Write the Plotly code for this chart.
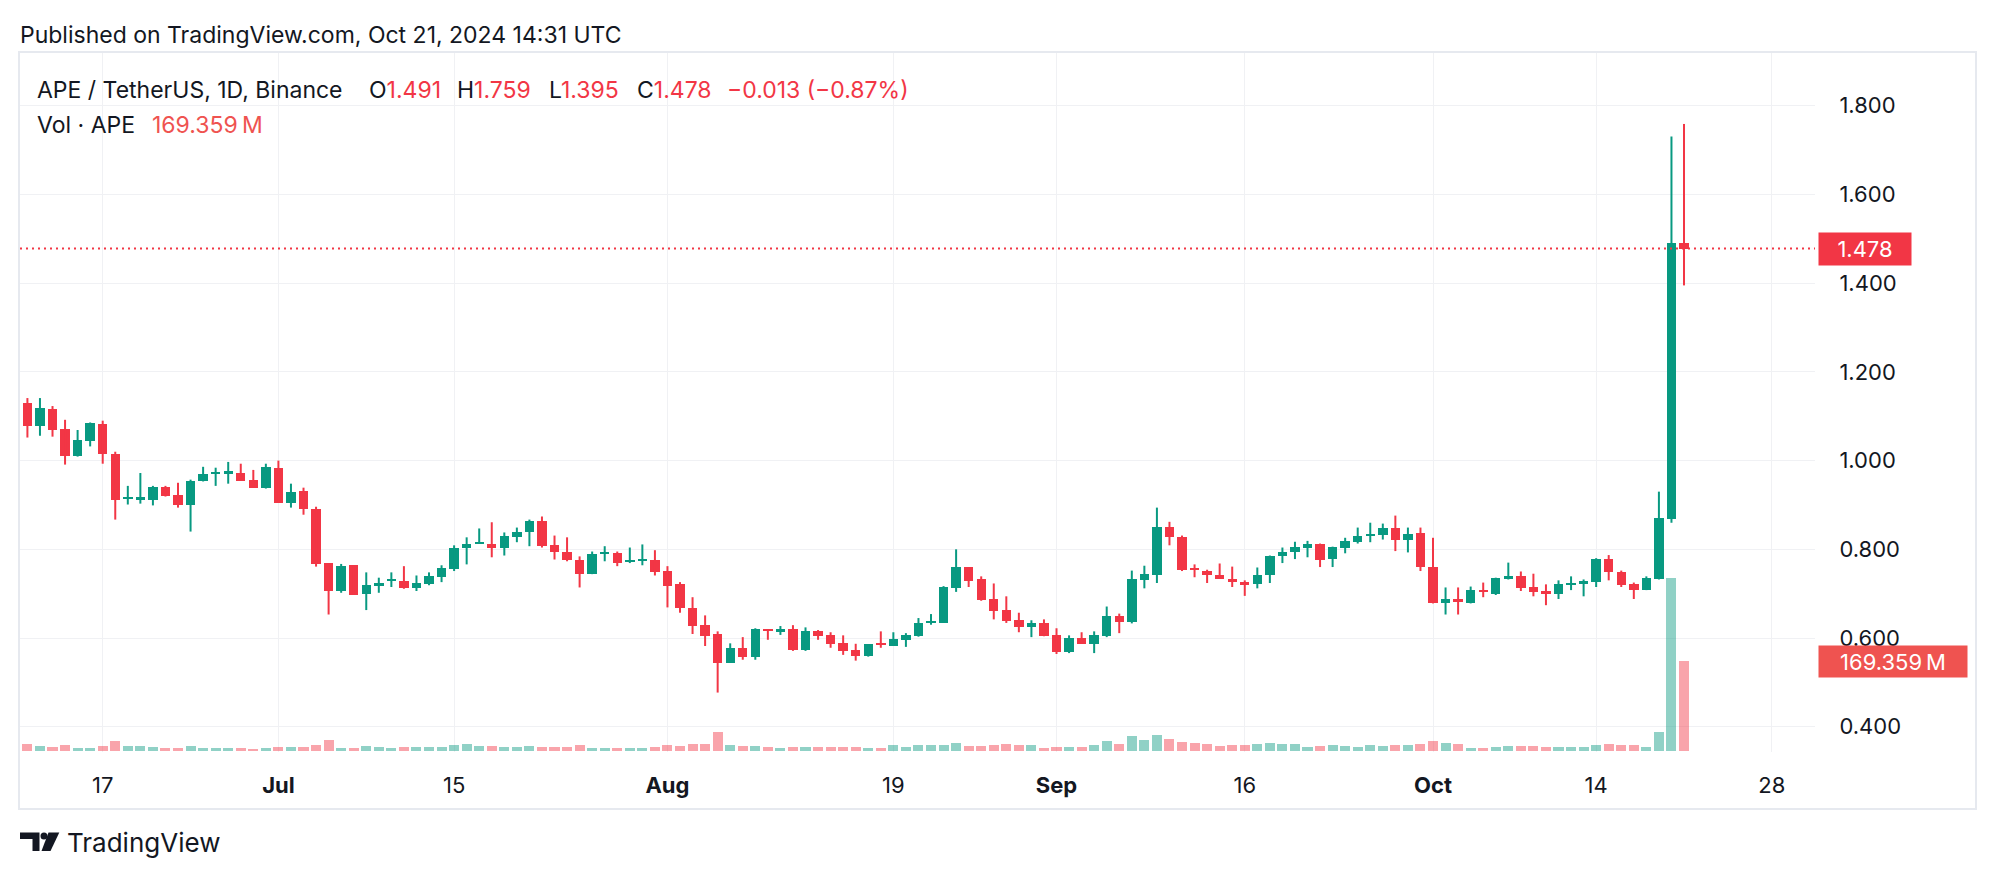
import plotly.graph_objects as go
import pandas as pd

# ---------------- data ----------------
dates = pd.date_range("2024-06-11", "2024-10-21", freq="D")

opens = [1.131, 1.079, 1.117, 1.071, 1.011, 1.045, 1.083, 1.015, 0.914, 0.913,
         0.912, 0.941, 0.923, 0.901, 0.953, 0.971, 0.972, 0.972, 0.956, 0.939,
         0.984, 0.905, 0.932, 0.891, 0.769, 0.705, 0.764, 0.699, 0.717, 0.729,
         0.728, 0.713, 0.721, 0.737, 0.755, 0.802, 0.812, 0.813, 0.804, 0.827,
         0.838, 0.863, 0.809, 0.795, 0.777, 0.744, 0.789, 0.791, 0.771, 0.774,
         0.775, 0.750, 0.721, 0.667, 0.629, 0.609, 0.544, 0.577, 0.558, 0.620,
         0.614, 0.620, 0.573, 0.615, 0.606, 0.588, 0.573, 0.560, 0.588, 0.582,
         0.596, 0.605, 0.634, 0.634, 0.713, 0.759, 0.732, 0.687, 0.663, 0.640,
         0.625, 0.633, 0.606, 0.569, 0.601, 0.587, 0.604, 0.649, 0.635, 0.730,
         0.742, 0.851, 0.828, 0.757, 0.751, 0.743, 0.733, 0.727, 0.722, 0.742,
         0.784, 0.793, 0.804, 0.813, 0.778, 0.804, 0.817, 0.829, 0.833, 0.849,
         0.822, 0.837, 0.761, 0.678, 0.689, 0.680, 0.709, 0.700, 0.734, 0.739,
         0.714, 0.705, 0.699, 0.721, 0.724, 0.726, 0.778, 0.748, 0.721, 0.708,
         0.734, 0.869, 1.491]
highs = [1.141, 1.141, 1.123, 1.092, 1.069, 1.086, 1.090, 1.020, 0.943, 0.972,
         0.943, 0.943, 0.950, 0.957, 0.986, 0.984, 0.997, 0.993, 0.979, 0.993,
         1.000, 0.948, 0.939, 0.896, 0.769, 0.767, 0.764, 0.748, 0.736, 0.748,
         0.762, 0.741, 0.748, 0.764, 0.809, 0.827, 0.847, 0.861, 0.838, 0.849,
         0.867, 0.874, 0.831, 0.827, 0.784, 0.795, 0.807, 0.795, 0.804, 0.811,
         0.798, 0.762, 0.726, 0.692, 0.651, 0.615, 0.588, 0.602, 0.622, 0.620,
         0.627, 0.629, 0.624, 0.618, 0.613, 0.606, 0.587, 0.586, 0.615, 0.613,
         0.611, 0.645, 0.654, 0.717, 0.800, 0.759, 0.739, 0.723, 0.694, 0.657,
         0.640, 0.642, 0.622, 0.606, 0.613, 0.615, 0.671, 0.655, 0.752, 0.763,
         0.894, 0.862, 0.831, 0.766, 0.754, 0.768, 0.761, 0.730, 0.759, 0.786,
         0.804, 0.817, 0.819, 0.813, 0.806, 0.826, 0.849, 0.860, 0.858, 0.876,
         0.849, 0.849, 0.826, 0.714, 0.714, 0.716, 0.725, 0.736, 0.770, 0.750,
         0.745, 0.721, 0.730, 0.739, 0.732, 0.780, 0.787, 0.752, 0.725, 0.739,
         0.930, 1.731, 1.759]
lows = [1.052, 1.056, 1.054, 0.991, 1.009, 1.032, 0.993, 0.867, 0.901, 0.903,
        0.899, 0.919, 0.894, 0.840, 0.953, 0.943, 0.948, 0.955, 0.939, 0.937,
        0.905, 0.894, 0.878, 0.761, 0.653, 0.702, 0.697, 0.663, 0.702, 0.715,
        0.711, 0.706, 0.719, 0.726, 0.751, 0.766, 0.812, 0.782, 0.786, 0.816,
        0.807, 0.804, 0.777, 0.773, 0.714, 0.744, 0.773, 0.762, 0.769, 0.764,
        0.741, 0.669, 0.657, 0.609, 0.582, 0.477, 0.544, 0.551, 0.551, 0.596,
        0.607, 0.571, 0.571, 0.596, 0.578, 0.562, 0.549, 0.558, 0.578, 0.582,
        0.580, 0.603, 0.630, 0.634, 0.704, 0.715, 0.684, 0.642, 0.634, 0.613,
        0.602, 0.604, 0.564, 0.566, 0.587, 0.566, 0.602, 0.611, 0.633, 0.712,
        0.724, 0.809, 0.751, 0.737, 0.724, 0.733, 0.715, 0.695, 0.712, 0.724,
        0.769, 0.778, 0.782, 0.760, 0.760, 0.791, 0.813, 0.816, 0.822, 0.796,
        0.793, 0.751, 0.678, 0.653, 0.653, 0.678, 0.692, 0.697, 0.732, 0.706,
        0.694, 0.674, 0.688, 0.708, 0.694, 0.715, 0.730, 0.715, 0.688, 0.708,
        0.732, 0.860, 1.395]
closes = [1.077, 1.119, 1.070, 1.011, 1.047, 1.085, 1.014, 0.912, 0.917, 0.916,
          0.941, 0.921, 0.901, 0.955, 0.970, 0.975, 0.975, 0.955, 0.939, 0.986,
          0.905, 0.929, 0.890, 0.766, 0.705, 0.763, 0.697, 0.719, 0.723, 0.733,
          0.713, 0.723, 0.739, 0.757, 0.804, 0.813, 0.816, 0.804, 0.829, 0.840,
          0.863, 0.807, 0.793, 0.777, 0.744, 0.789, 0.794, 0.769, 0.776, 0.777,
          0.748, 0.717, 0.668, 0.627, 0.605, 0.544, 0.577, 0.558, 0.620, 0.616,
          0.620, 0.573, 0.615, 0.605, 0.587, 0.571, 0.560, 0.586, 0.585, 0.597,
          0.606, 0.633, 0.638, 0.714, 0.759, 0.729, 0.686, 0.661, 0.639, 0.625,
          0.633, 0.604, 0.569, 0.601, 0.587, 0.606, 0.649, 0.636, 0.734, 0.745,
          0.851, 0.827, 0.753, 0.754, 0.742, 0.733, 0.726, 0.719, 0.743, 0.786,
          0.795, 0.806, 0.813, 0.775, 0.806, 0.819, 0.831, 0.835, 0.849, 0.822,
          0.835, 0.760, 0.678, 0.689, 0.681, 0.709, 0.703, 0.736, 0.739, 0.712,
          0.703, 0.699, 0.721, 0.725, 0.727, 0.778, 0.748, 0.719, 0.708, 0.736,
          0.871, 1.491, 1.478]
volumes_m = [12.6, 8.8, 6.9, 10.7, 5.0, 5.0, 8.8, 18.2, 8.8, 8.8,
             6.9, 5.0, 5.0, 8.8, 5.0, 5.0, 5.0, 5.0, 3.1, 5.0,
             6.9, 6.9, 6.9, 10.7, 20.1, 5.0, 5.0, 8.8, 6.9, 5.0,
             6.9, 6.9, 6.9, 6.9, 10.7, 12.6, 8.8, 8.8, 6.9, 6.9,
             8.8, 6.9, 6.9, 6.9, 10.7, 5.0, 5.0, 5.0, 5.0, 5.0,
             6.9, 10.7, 8.8, 12.6, 12.6, 35.2, 10.7, 8.8, 8.8, 6.9,
             5.0, 6.9, 6.9, 6.9, 6.9, 6.9, 6.9, 5.0, 5.0, 10.7,
             6.9, 10.7, 10.7, 10.7, 14.4, 8.8, 8.8, 10.7, 12.6, 10.7,
             10.7, 5.0, 6.9, 6.9, 6.9, 10.7, 18.2, 12.6, 27.6, 20.1,
             29.5, 22.0, 16.3, 14.4, 12.6, 8.8, 10.7, 10.7, 12.6, 14.4,
             12.6, 12.6, 6.9, 8.8, 10.7, 8.8, 6.9, 10.7, 8.8, 10.7,
             10.7, 12.6, 18.2, 14.4, 12.6, 5.0, 5.0, 6.9, 8.8, 8.8,
             8.8, 6.9, 6.9, 6.9, 6.9, 10.7, 12.6, 10.7, 10.7, 6.9,
             35.2, 327.0, 169.359]

tick_dates = ["2024-06-17", "2024-07-01", "2024-07-15", "2024-08-01", "2024-08-19",
              "2024-09-01", "2024-09-16", "2024-10-01", "2024-10-14", "2024-10-28"]
tick_labels = ["17", "<b>Jul</b>", "15", "<b>Aug</b>", "19",
               "<b>Sep</b>", "16", "<b>Oct</b>", "14", "28"]
price_ticks = [0.4, 0.6, 0.8, 1.0, 1.2, 1.4, 1.6, 1.8]

last_price = 1.478
last_volume_m = 169.359

# ---------------- style ----------------
UP = "#089981"
DOWN = "#F23645"
UP_VOL = "rgba(8,153,129,0.45)"
DOWN_VOL = "rgba(242,54,69,0.45)"
VOL_LABEL = "#EF5350"
GRID = "#F0F1F4"
TEXT = "#131722"
FONT = "Inter, Roboto, 'Noto Sans', sans-serif"

W, H = 1996, 878
L_PX, R_PX, T_PX, B_PX = 20, 1815, 53, 752


def xp(px):
    return (px - L_PX) / (R_PX - L_PX)


def yp(py):
    return (B_PX - py) / (B_PX - T_PX)


DAY_MS = 86400000
up_mask = [c >= o for o, c in zip(opens, closes)]

fig = go.Figure()

# volume (base axis, drawn underneath)
fig.add_trace(go.Bar(
    x=dates, y=volumes_m, yaxis="y",
    width=0.8 * DAY_MS,
    marker=dict(color=[UP_VOL if u else DOWN_VOL for u in up_mask], line=dict(width=0)),
    hoverinfo="skip", showlegend=False,
))

# wicks
for flag, col in ((True, UP), (False, DOWN)):
    wx, wy = [], []
    for d, h, l, u in zip(dates, highs, lows, up_mask):
        if u == flag:
            wx += [d, d, None]
            wy += [l, h, None]
    fig.add_trace(go.Scatter(x=wx, y=wy, yaxis="y2", mode="lines",
                             line=dict(color=col, width=2), hoverinfo="skip",
                             showlegend=False))

# bodies
body_base = [min(o, c) for o, c in zip(opens, closes)]
body_h = [max(abs(c - o), 0.004) for o, c in zip(opens, closes)]
fig.add_trace(go.Bar(
    x=dates, y=body_h, base=body_base, yaxis="y2",
    width=0.75 * DAY_MS,
    marker=dict(color=[UP if u else DOWN for u in up_mask], line=dict(width=0)),
    hoverinfo="skip", showlegend=False,
))

fig.update_layout(
    width=W, height=H,
    margin=dict(l=L_PX, r=W - R_PX, t=T_PX, b=H - B_PX, pad=0),
    paper_bgcolor="white", plot_bgcolor="white",
    barmode="overlay", bargap=0,
    font=dict(family=FONT, color=TEXT, size=22),
    showlegend=False,
    xaxis=dict(
        type="date",
        range=["2024-06-10 09:50", "2024-10-31 10:30"],
        tickvals=tick_dates, ticktext=tick_labels,
        showgrid=True, gridcolor=GRID, gridwidth=1,
        zeroline=False, showline=False,
        ticks="outside", ticklen=14, tickcolor="rgba(0,0,0,0)",
        tickfont=dict(size=22, color=TEXT, family=FONT),
        fixedrange=True,
    ),
    yaxis=dict(
        range=[-2.8, 1322.8],
        visible=False, showgrid=False, zeroline=False,
        fixedrange=True,
    ),
    yaxis2=dict(
        overlaying="y", side="right",
        range=[0.343, 1.919],
        tickvals=price_ticks, tickformat=".3f",
        showgrid=True, gridcolor=GRID, gridwidth=1,
        zeroline=False, showline=False,
        ticks="outside", ticklen=19, tickcolor="rgba(0,0,0,0)",
        tickfont=dict(size=22, color=TEXT, family=FONT),
        fixedrange=True,
    ),
)

shapes = []
# outer chart frame
shapes.append(dict(type="rect", xref="paper", yref="paper",
                   x0=xp(19), x1=xp(1976), y0=yp(809), y1=yp(52),
                   line=dict(color="#E6E9EF", width=2), layer="below"))
# last price dotted line
shapes.append(dict(type="line", xref="paper", yref="y2", x0=0, x1=1,
                   y0=last_price, y1=last_price,
                   line=dict(color=DOWN, width=2, dash="2px,4px")))
# TradingView logo
shapes.append(dict(type="path", xref="paper", yref="paper",
                   path=(f"M {xp(20)} {yp(832.5)} L {xp(39.5)} {yp(832.5)} L {xp(39.5)} {yp(851)} "
                         f"L {xp(32.5)} {yp(851)} L {xp(32.5)} {yp(839)} L {xp(20)} {yp(839)} Z"),
                   fillcolor=TEXT, line=dict(width=0)))
shapes.append(dict(type="circle", xref="paper", yref="paper",
                   x0=xp(40.5), x1=xp(47.5), y0=yp(839.5), y1=yp(832.5),
                   fillcolor=TEXT, line=dict(width=0)))
shapes.append(dict(type="path", xref="paper", yref="paper",
                   path=(f"M {xp(48.5)} {yp(832.5)} L {xp(59.3)} {yp(832.5)} L {xp(50.5)} {yp(851)} "
                         f"L {xp(41.5)} {yp(851)} Z"),
                   fillcolor=TEXT, line=dict(width=0)))
fig.update_layout(shapes=shapes)

RED_SPAN = '<span style="color:#F23645">{}</span>'
ann = []


def text_at(px, py, txt, size=23, color=TEXT):
    ann.append(dict(xref="paper", yref="paper", x=xp(px), y=yp(py), text=txt,
                    xanchor="left", yanchor="middle", showarrow=False,
                    font=dict(size=size, color=color, family=FONT)))


text_at(18, 35, "Published on TradingView.com, Oct 21, 2024 14:31 UTC", 23)
text_at(35, 90, "APE / TetherUS, 1D, Binance", 23)
text_at(367, 90, "O" + RED_SPAN.format(f"{opens[-1]:.3f}"), 23)
text_at(455, 90, "H" + RED_SPAN.format(f"{highs[-1]:.3f}"), 23)
text_at(547, 90, "L" + RED_SPAN.format(f"{lows[-1]:.3f}"), 23)
text_at(635, 90, "C" + RED_SPAN.format(f"{closes[-1]:.3f}"), 23)
chg = closes[-1] - closes[-2]
text_at(725, 90, RED_SPAN.format(f"\u2212{abs(chg):.3f} (\u2212{abs(chg) / closes[-2] * 100:.2f}%)"), 23)
text_at(35, 125, "Vol · APE", 23)
text_at(150, 125, f"{last_volume_m:.3f}\u2009M", 23, VOL_LABEL)
text_at(65, 842, "TradingView", 26)

# last price label
ann.append(dict(xref="paper", yref="y2", x=xp(1818), y=last_price,
                text=f"{last_price:.3f}", xanchor="left", yanchor="middle",
                showarrow=False, bgcolor=DOWN, borderpad=3, width=86, height=26,
                align="center", font=dict(size=22, color="white", family=FONT)))
# last volume label
ann.append(dict(xref="paper", yref="y", x=xp(1818), y=last_volume_m,
                text=f"{last_volume_m:.3f}\u2009M", xanchor="left", yanchor="middle",
                showarrow=False, bgcolor=VOL_LABEL, borderpad=3, width=142, height=25,
                align="center", font=dict(size=22, color="white", family=FONT)))
fig.update_layout(annotations=ann)

fig.write_html("out.html")
